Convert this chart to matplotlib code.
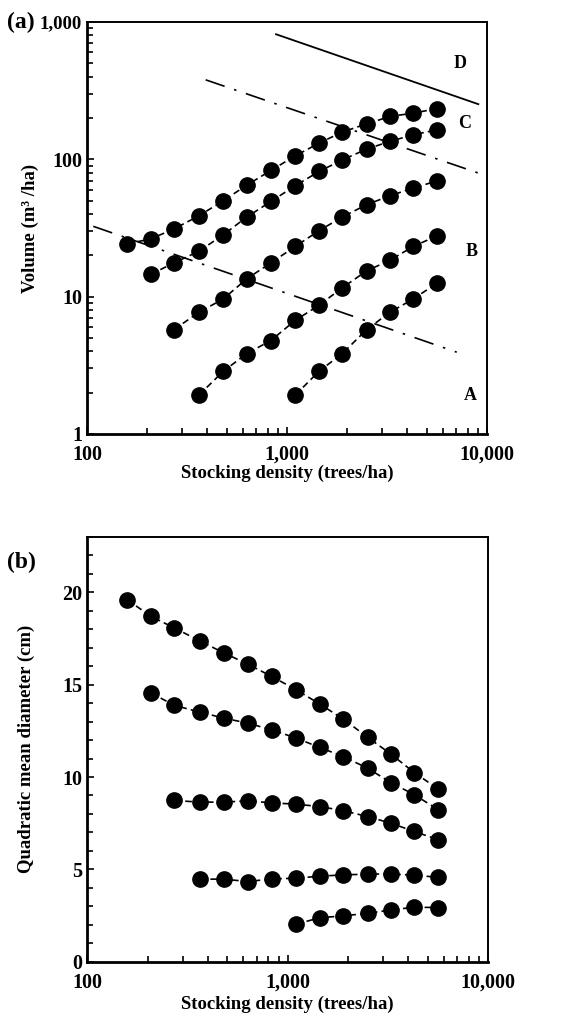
import matplotlib
matplotlib.use("Agg")
import matplotlib.pyplot as plt
from matplotlib.ticker import FuncFormatter, LogLocator, MultipleLocator, NullFormatter

plt.rcParams['font.family'] = ['Liberation Serif', 'DejaVu Serif']
plt.rcParams['font.weight'] = 'bold'
plt.rcParams['axes.labelweight'] = 'bold'

# stocking density (trees/ha), shared grid for all series
density = [158, 208, 272, 363, 480, 630, 830, 1100, 1445, 1890, 2500, 3270, 4280, 5650]

# (a) volume (m3/ha); each series starts at a later density
vol_1 = [24.2, 26.3, 31.1, 38.8, 49.9, 64.9, 82.9, 106, 131, 158, 181, 205, 217, 234]
vol_2 = [14.5, 17.6, 21.4, 28.2, 38, 49.3, 64.2, 81.5, 99, 118.6, 135, 151, 164]
vol_3 = [5.75, 7.69, 9.62, 13.5, 17.6, 23.2, 30.2, 38, 46.7, 54.3, 61.7, 69.8]
vol_4 = [1.92, 2.86, 3.85, 4.79, 6.72, 8.65, 11.6, 15.4, 18.4, 23.2, 27.8]
vol_5 = [1.92, 2.86, 3.85, 5.75, 7.69, 9.62, 12.6]
volumes = [vol_1, vol_2, vol_3, vol_4, vol_5]

# (b) quadratic mean diameter (cm)
qmd_1 = [19.6, 18.7, 18.07, 17.38, 16.72, 16.12, 15.45, 14.73, 13.95, 13.14, 12.16, 11.24, 10.24, 9.34]
qmd_2 = [14.55, 13.88, 13.52, 13.19, 12.92, 12.56, 12.11, 11.6, 11.11, 10.48, 9.7, 9.04, 8.22]
qmd_3 = [8.73, 8.64, 8.64, 8.71, 8.6, 8.53, 8.4, 8.18, 7.86, 7.5, 7.05, 6.6]
qmd_4 = [4.47, 4.47, 4.34, 4.48, 4.52, 4.63, 4.7, 4.74, 4.75, 4.68, 4.57]
qmd_5 = [2.03, 2.38, 2.48, 2.62, 2.8, 2.95, 2.93]
diameters = [qmd_1, qmd_2, qmd_3, qmd_4, qmd_5]

# boundary lines in panel (a): (x start, x end), (y start, y end)
line_D = ([881, 9045], [814, 252])
line_C = ([392, 9045], [379, 79.4])
line_AB = ([107.5, 7055], [32.5, 3.94])

zone_labels = ['D', 'C', 'B', 'A']
zone_x = [7330, 7760, 8380, 8290]
zone_y = [500, 181, 21.4, 1.92]

comma = FuncFormatter(lambda v, p: '{:,.0f}'.format(v))


def style_axes(ax):
    for s in ax.spines.values():
        s.set_linewidth(1.4)
    ax.spines['left'].set_linewidth(2)
    ax.spines['bottom'].set_linewidth(2)
    ax.tick_params(which='both', direction='in', top=False, right=False,
                   labelsize=14.5, width=1.2)
    ax.tick_params(which='major', length=5)
    ax.tick_params(which='minor', length=4)
    ax.set_xscale('log')
    ax.set_xlim(100, 10000)
    ax.xaxis.set_major_formatter(comma)
    ax.xaxis.set_minor_locator(LogLocator(base=10, subs=range(2, 10)))
    ax.xaxis.set_minor_formatter(NullFormatter())
    ax.tick_params(axis='x', pad=8)
    ax.set_xlabel('Stocking density (trees/ha)', fontsize=13.5, labelpad=0)


def draw_series(ax, series):
    for ys in series:
        xs = density[len(density) - len(ys):]
        ax.plot(xs, ys, color='black', ls=(0, (4, 2.5)), lw=1.2,
                marker='o', ms=11, mfc='black', mec='black')


fig = plt.figure(figsize=(5.73, 10.17), dpi=100)

# panel (a)
ax1 = fig.add_axes([0.1518, 0.5733, 0.6982, 0.4051])
style_axes(ax1)
ax1.set_yscale('log')
ax1.set_ylim(1, 1000)
ax1.yaxis.set_major_formatter(comma)
ax1.yaxis.set_minor_formatter(NullFormatter())
draw_series(ax1, volumes)
ax1.plot(*line_D, color='black', lw=1.3)
ax1.plot(*line_C, color='black', lw=1.2, ls=(0, (12, 6, 1.5, 6)))
ax1.plot(*line_AB, color='black', lw=1.2, ls=(0, (12, 6, 1.5, 6)))
for lab, x, y in zip(zone_labels, zone_x, zone_y):
    ax1.text(x, y, lab, fontsize=13, ha='center', va='center')
ax1.set_ylabel('Volume (m\u00b3 /ha)', fontsize=13.5)
ax1.yaxis.set_label_coords(-0.12, 0.5)
fig.canvas.draw()
for t in ax1.get_yticklabels():
    if t.get_text() == '1,000':
        t.set_fontsize(13.5)
fig.text(0.012, 0.978, '(a)', fontsize=17, va='center')

# panel (b)
ax2 = fig.add_axes([0.1524, 0.0544, 0.6996, 0.4176])
style_axes(ax2)
ax2.set_ylim(0, 23)
ax2.yaxis.set_major_locator(MultipleLocator(5))
ax2.yaxis.set_minor_locator(MultipleLocator(1))
draw_series(ax2, diameters)
ax2.set_ylabel('Quadratic mean diameter (cm)', fontsize=13.5)
ax2.yaxis.set_label_coords(-0.13, 0.5)
ax2.xaxis.labelpad = 2
fig.text(0.012, 0.447, '(b)', fontsize=17, va='center')

fig.savefig('out.png', dpi=100)
